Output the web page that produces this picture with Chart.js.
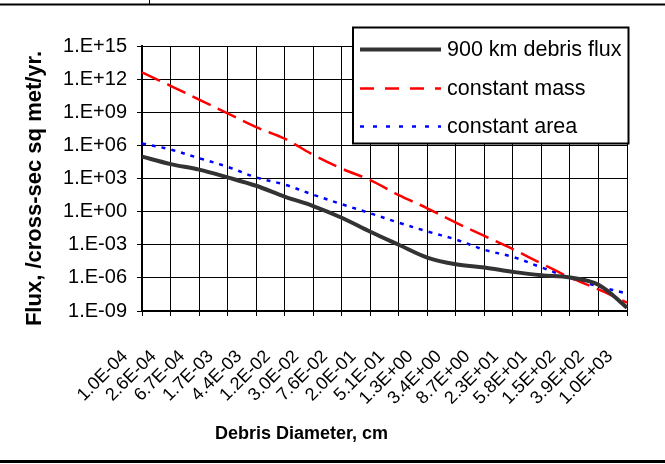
<!DOCTYPE html>
<html><head><meta charset="utf-8">
<script src="https://cdn.jsdelivr.net/npm/chart.js@4/dist/chart.umd.min.js"></script>
<style>html,body{margin:0;padding:0;background:#fff}#wrap{width:665px;height:464px}</style>
</head><body><div id="wrap"><canvas id="c" width="665" height="464"></canvas></div>
<script>
const diameters = ['1.0E-04','2.6E-04','6.7E-04','1.7E-03','4.4E-03','1.2E-02','3.0E-02','7.6E-02','2.0E-01','5.1E-01','1.3E+00','3.4E+00','8.7E+00','2.3E+01','5.8E+01','1.5E+02','3.9E+02','1.0E+03'];
const flux900 = [9.5E4, 2.0E4, 6.3E3, 1.26E3, 2.2E2, 2.3E1, 3.2, 2.8E-1, 1.5E-2, 1.0E-3, 6.9E-5, 1.7E-5, 8.7E-6, 3.5E-6, 1.7E-6, 1.07E-6, 2.4E-7, 2.0E-9];
const constMass = [4.0E12, 2.5E11, 1.4E10, 7.9E8, 4.5E7, 4.0E6, 1.4E5, 7.9E3, 7.1E2, 3.2E1, 2.0, 1.0E-1, 6.3E-3, 4.0E-4, 2.0E-5, 1.1E-6, 8.9E-8, 5.6E-9];
const constArea = [1.5E6, 4.2E5, 6.9E4, 1.15E4, 1.26E3, 2.8E2, 3.4E1, 4.7, 7.1E-1, 1.0E-1, 1.6E-2, 3.0E-3, 3.5E-4, 7.9E-5, 8.9E-6, 1.0E-6, 1.7E-7, 3.8E-8];
const yTickValues = [1e-9, 1e-6, 1e-3, 1, 1e3, 1e6, 1e9, 1e12, 1e15];
const yTickLabels = ['1.E-09','1.E-06','1.E-03','1.E+00','1.E+03','1.E+06','1.E+09','1.E+12','1.E+15'];
const seriesNames = ['900 km debris flux', 'constant mass', 'constant area'];
const xTitle = 'Debris Diameter, cm';
const yTitle = 'Flux, /cross-sec sq met/yr.';

const FONT = "'Liberation Sans', Arial, sans-serif";

const framePlugin = {
  id: 'frame',
  afterDraw(chart) {
    const ctx = chart.ctx;
    ctx.save();
    ctx.strokeStyle = '#000';
    ctx.lineWidth = 2;
    ctx.beginPath(); ctx.moveTo(0, 4.5); ctx.lineTo(665, 4.5); ctx.stroke();
    ctx.lineWidth = 1;
    ctx.beginPath(); ctx.moveTo(149.5, 0); ctx.lineTo(149.5, 4.5); ctx.stroke();
    ctx.lineWidth = 3;
    ctx.beginPath(); ctx.moveTo(0, 461.5); ctx.lineTo(665, 461.5); ctx.stroke();
    // axis titles (centred as in the reference)
    ctx.fillStyle = '#000';
    ctx.textAlign = 'center';
    ctx.textBaseline = 'middle';
    ctx.font = 'bold 18px ' + FONT;
    ctx.fillText(xTitle, 301.5, 434.5);
    ctx.save();
    ctx.translate(35, 188.5);
    ctx.rotate(-Math.PI / 2);
    ctx.font = 'bold 22px ' + FONT;
    ctx.fillText(yTitle, 0, 0);
    ctx.restore();
    ctx.restore();
  }
};

const boxLegend = {
  id: 'boxLegend',
  afterDraw(chart) {
    const ctx = chart.ctx;
    const bx = 353, by = 27.5, bw = 275.5, bh = 116;
    ctx.save();
    ctx.fillStyle = '#fff';
    ctx.fillRect(bx, by, bw, bh);
    ctx.strokeStyle = '#000';
    ctx.lineWidth = 2;
    ctx.strokeRect(bx, by, bw, bh);
    const rows = [49.5, 88.5, 126.5];
    chart.data.datasets.forEach((ds, i) => {
      const y = rows[i];
      ctx.strokeStyle = ds.borderColor;
      ctx.lineWidth = ds.borderWidth;
      ctx.setLineDash(ds.legendDash || []);
      ctx.lineCap = 'butt';
      ctx.beginPath(); ctx.moveTo(360, y); ctx.lineTo(441, y); ctx.stroke();
      ctx.setLineDash([]);
      ctx.fillStyle = '#000';
      ctx.font = '21.5px ' + FONT;
      ctx.textBaseline = 'middle';
      ctx.textAlign = 'left';
      ctx.fillText(ds.label, 447, y + 1);
    });
    ctx.restore();
  }
};

new Chart(document.getElementById('c'), {
  type: 'line',
  data: {
    labels: diameters,
    datasets: [
      { label: seriesNames[0], data: flux900, borderColor: '#333333', borderWidth: 4, pointRadius: 0, tension: 0.35, fill: false },
      { label: seriesNames[1], data: constMass, borderColor: '#ff0000', borderWidth: 2.5, borderDash: [20, 8], legendDash: [14, 11], pointRadius: 0, tension: 0.35, fill: false },
      { label: seriesNames[2], data: constArea, borderColor: '#0000ff', borderWidth: 2.5, borderDash: [4, 6], legendDash: [4, 9], pointRadius: 0, tension: 0.35, fill: false }
    ]
  },
  options: {
    responsive: false,
    animation: false,
    devicePixelRatio: 1,
    layout: { padding: { top: 46, right: 38, left: 0, bottom: 0 } },
    plugins: { legend: { display: false }, tooltip: { enabled: false } },
    scales: {
      x: {
        type: 'category',
        offset: false,
        afterFit(s) { s.height = 153; s.paddingLeft = 0; s.paddingRight = 0; },
        grid: { color: '#000', lineWidth: 1, offset: false, tickLength: 5, drawTicks: true },
        border: { color: '#000', width: 2 },
        ticks: { autoSkip: false, minRotation: 45, maxRotation: 45, color: '#000', font: { family: FONT, size: 18 }, padding: 30, labelOffset: -17 },
        title: { display: false, text: xTitle }
      },
      y: {
        type: 'logarithmic',
        min: yTickValues[0],
        max: yTickValues[yTickValues.length - 1],
        afterFit(s) { s.width = 142; s.paddingTop = 0; s.paddingBottom = 0; },
        afterBuildTicks(s) { s.ticks = yTickValues.map(v => ({ value: v })); },
        grid: { color: '#000', lineWidth: 1, tickLength: 5 },
        border: { color: '#000', width: 2 },
        ticks: {
          color: '#000', font: { family: FONT, size: 20 }, padding: 10,
          callback(v) { const i = yTickValues.indexOf(v); return i >= 0 ? yTickLabels[i] : ''; }
        },
        title: { display: false, text: yTitle }
      }
    }
  },
  plugins: [framePlugin, boxLegend]
});
</script></body></html>
